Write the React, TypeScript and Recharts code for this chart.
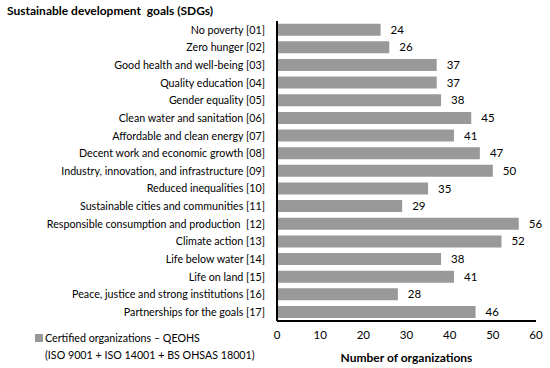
import React from "react";
import { BarChart, Bar, XAxis, YAxis, LabelList } from "recharts";

const goals = [
  "No poverty [01]",
  "Zero hunger [02]",
  "Good health and well-being [03]",
  "Quality education [04]",
  "Gender equality [05]",
  "Clean water and sanitation [06]",
  "Affordable and clean energy [07]",
  "Decent work and economic growth [08]",
  "Industry, innovation, and infrastructure [09]",
  "Reduced inequalities [10]",
  "Sustainable cities and communities [11]",
  "Responsible consumption and production  [12]",
  "Climate action [13]",
  "Life below water [14]",
  "Life on land [15]",
  "Peace, justice and strong institutions [16]",
  "Partnerships for the goals [17]",
];
const organizations = [24, 26, 37, 37, 38, 45, 41, 47, 50, 35, 29, 56, 52, 38, 41, 28, 46];
const xTicks = [0, 10, 20, 30, 40, 50, 60];
const seriesName = "Certified organizations – QEOHS";
const seriesNote = "(ISO 9001 + ISO 14001 + BS OHSAS 18001)";

const data = goals.map((g, i) => ({ goal: g, value: organizations[i] }));

const FONT = "Lato, 'Open Sans', sans-serif";
const TICK_SIZE = 10.7;

const YTick = (props: any) => {
  const { x, y, payload } = props;
  return (
    <text
      x={x}
      y={y}
      dy="0.355em"
      textAnchor="end"
      fill="#000"
      fontSize={TICK_SIZE}
      fontFamily={FONT}
      style={{ whiteSpace: "pre" }}
    >
      {payload.value}
    </text>
  );
};

export default function App() {
  return (
    <div style={{ position: "absolute", left: 0, top: 0, width: 550, height: 368, background: "#fff" }}>
      <div
        style={{
          position: "absolute",
          left: 7,
          top: 3,
          fontFamily: FONT,
          fontSize: 12,
          fontWeight: "bold",
          color: "#000",
          whiteSpace: "pre",
        }}
      >
        Sustainable development  goals (SDGs)
      </div>
      <BarChart
        width={550}
        height={368}
        data={data}
        layout="vertical"
        margin={{ top: 21, right: 14, bottom: 0, left: 0 }}
        barCategoryGap="15%"
        style={{ position: "absolute", left: 0, top: 0 }}
      >
        <XAxis
          type="number"
          domain={[0, 60]}
          ticks={xTicks}
          tickLine={false}
          axisLine={{ stroke: "#000", strokeWidth: 2 }}
          tick={{ fill: "#000", fontSize: 11.5, fontFamily: FONT }}
          tickMargin={4}
          height={47}
          label={{
            value: "Number of organizations",
            position: "insideBottom",
            offset: 6,
            style: { fill: "#000", fontSize: 12, fontWeight: "bold", fontFamily: FONT },
          }}
        />
        <YAxis
          type="category"
          dataKey="goal"
          width={277}
          tickLine={false}
          axisLine={{ stroke: "#000", strokeWidth: 2 }}
          tick={<YTick />}
          tickMargin={6}
          interval={0}
        />
        <Bar dataKey="value" fill="#999999" isAnimationActive={false} name={seriesName}>
          <LabelList
            dataKey="value"
            position="right"
            offset={10}
            style={{ fill: "#000", fontSize: 11.5, fontFamily: FONT }}
          />
        </Bar>
      </BarChart>
      <div
        style={{
          position: "absolute",
          left: 35,
          top: 329,
          fontFamily: FONT,
          fontSize: TICK_SIZE,
          color: "#000",
          lineHeight: "17px",
          whiteSpace: "nowrap",
        }}
      >
        <div style={{ display: "flex", alignItems: "center" }}>
          <span style={{ display: "inline-block", width: 8, height: 8, background: "#999999", marginRight: 2 }} />
          <span>{seriesName}</span>
        </div>
        <div style={{ paddingLeft: 10 }}>{seriesNote}</div>
      </div>
    </div>
  );
}
